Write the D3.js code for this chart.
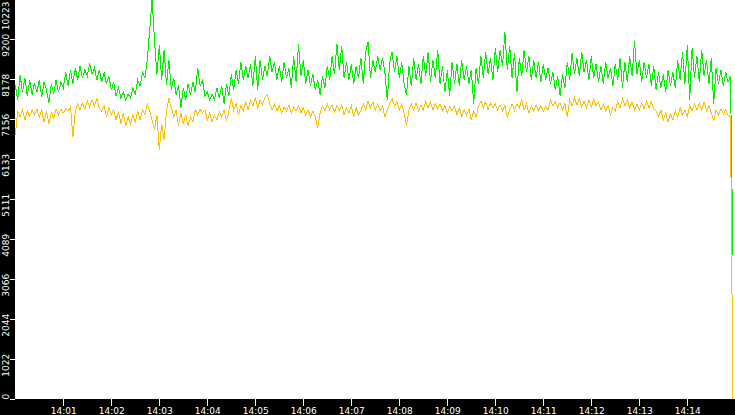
<!DOCTYPE html>
<html>
<head>
<meta charset="utf-8">
<script src="https://cdn.jsdelivr.net/npm/d3@7"></script>
<style>
  html, body { margin: 0; padding: 0; background: #000; overflow: hidden; }
  svg { display: block; }
  text { font-family: "DejaVu Sans", sans-serif; font-size: 9px; fill: #fff; }
</style>
</head>
<body>
<div id="chart"></div>
<script>
// samples are 3 s apart, starting at 14:00:00
const startTime = '14:00:00';
const stepSeconds = 3;

const xTickLabels = ['14:01', '14:02', '14:03', '14:04', '14:05', '14:06', '14:07',
    '14:08', '14:09', '14:10', '14:11', '14:12', '14:13', '14:14'];
const yTickLabels = ['0', '1022', '2044', '3066', '4089', '5111', '6133', '7156', '8178', '9200', '10223'];

const greenValues = [
    8030, 7650, 8290, 7850, 8210, 7750, 8160, 7780, 8080, 7850,
    8160, 7720, 8110, 7905, 7570, 8060, 7800, 8160, 7850, 8110,
    7960, 8360, 8010, 8420, 8060, 8470, 8160, 8520, 8210, 8420,
    8260, 8590, 8310, 8470, 8160, 8420, 8110, 8360, 8060, 8260,
    7905, 8110, 7750, 7960, 7700, 7850, 7650, 7800, 7700, 7960,
    7780, 8160, 8010, 8360, 8210, 8670, 9440, 10223, 9180, 8290,
    9055, 8160, 8930, 8030, 8670, 7905, 8210, 7780, 8030, 7450,
    7960, 7650, 8060, 7780, 8110, 7850, 8470, 8010, 8160, 7750,
    7850, 7650, 7800, 7650, 7960, 7700, 8010, 7550, 8060, 7750,
    8310, 7905, 8420, 8060, 8620, 8160, 8520, 8210, 8570, 8010,
    8770, 7905, 8670, 8160, 8520, 8260, 8770, 8360, 8620, 8160,
    8520, 8110, 8620, 8210, 8470, 7960, 8770, 8110, 9080, 8260,
    8670, 8060, 8420, 8010, 8310, 7905, 8160, 7780, 8260, 7960,
    8520, 8160, 8770, 8310, 9080, 8420, 9030, 8210, 8620, 8160,
    8570, 8060, 8520, 8210, 8720, 8060, 8880, 9130, 8210, 8670,
    8360, 8770, 8420, 8720, 8360, 7650, 8620, 8880, 8360, 8770,
    8210, 8620, 8060, 7780, 8520, 8010, 8720, 8160, 8570, 8060,
    8770, 8260, 8880, 8110, 8670, 8210, 8930, 8060, 8520, 7850,
    8420, 7750, 8620, 8060, 8570, 8010, 8670, 8160, 8520, 8060,
    8420, 7550, 8470, 8060, 8770, 8210, 8880, 8310, 8720, 8160,
    8980, 8360, 8930, 8520, 9390, 8420, 9030, 8210, 8850, 7850,
    8720, 8260, 8930, 8360, 8770, 8160, 8670, 8210, 8620, 8110,
    8570, 8160, 8470, 8060, 8360, 7905, 8260, 7750, 8310, 7960,
    8620, 8160, 8850, 8310, 8720, 8260, 8880, 8360, 8670, 8160,
    8770, 8210, 8570, 8110, 8520, 8060, 8620, 8210, 8470, 8010,
    8570, 8160, 8720, 7960, 8620, 8110, 8770, 8260, 9160, 8310,
    8670, 8110, 8620, 8210, 8570, 8010, 8520, 7905, 8360, 7960,
    8310, 7850, 8420, 8010, 8360, 7960, 8670, 8160, 8880, 8060,
    9055, 7650, 8980, 8210, 8770, 8110, 8930, 8260, 8670, 8060,
    8720, 7550, 8470, 8060, 8420, 8010, 8360, 8110, 8260, 3690
];

const orangeValues = [
    6750, 7370, 7220, 7395, 7140, 7370, 7240, 7395, 7270, 7420,
    7220, 7395, 7090, 7370, 7040, 7320, 7190, 7420, 7270, 7420,
    7320, 7420, 7370, 7470, 6700, 7370, 7550, 7395, 7570, 7420,
    7620, 7470, 7650, 7500, 7680, 7450, 7370, 7500, 7220, 7450,
    7270, 7395, 7140, 7370, 7040, 7320, 6990, 7220, 7040, 7270,
    7090, 7370, 7140, 7395, 7270, 7550, 7370, 7140, 6880, 7270,
    6370, 7040, 6630, 7370, 7700, 7450, 7220, 7395, 6990, 7320,
    7040, 7270, 6990, 7220, 7090, 7395, 7270, 7420, 7320, 7395,
    7140, 7320, 7090, 7270, 7140, 7345, 7220, 7395, 7110, 7370,
    7700, 7395, 7550, 7270, 7500, 7370, 7600, 7395, 7650, 7500,
    7700, 7450, 7650, 7520, 7720, 7780, 7550, 7395, 7550, 7370,
    7500, 7320, 7470, 7370, 7520, 7320, 7470, 7370, 7500, 7320,
    7450, 7270, 7395, 7220, 7370, 7220, 6930, 7320, 7500, 7370,
    7550, 7395, 7520, 7345, 7500, 7370, 7520, 7270, 7450, 7320,
    7500, 7220, 7450, 7270, 7395, 7550, 7395, 7620, 7450, 7600,
    7395, 7550, 7370, 7500, 7220, 7395, 7550, 7680, 7500, 7620,
    7395, 7550, 7320, 7010, 7395, 7550, 7395, 7570, 7370, 7520,
    7395, 7620, 7450, 7600, 7395, 7550, 7420, 7550, 7370, 7500,
    7320, 7470, 7370, 7500, 7270, 7450, 7220, 7395, 7270, 7420,
    7140, 7370, 7220, 7500, 7620, 7450, 7600, 7395, 7570, 7450,
    7550, 7395, 7520, 7380, 7500, 7220, 7395, 7550, 7380, 7550,
    7450, 7650, 7395, 7550, 7320, 7500, 7370, 7520, 7380, 7500,
    7370, 7470, 7395, 7650, 7500, 7600, 7450, 7570, 7395, 7550,
    7220, 7650, 7500, 7700, 7520, 7680, 7470, 7620, 7450, 7650,
    7470, 7680, 7500, 7600, 7395, 7550, 7370, 7500, 7270, 7450,
    7370, 7600, 7450, 7680, 7500, 7650, 7450, 7600, 7395, 7550,
    7395, 7570, 7420, 7620, 7450, 7600, 7420, 7370, 7220, 7395,
    7140, 7320, 7090, 7295, 7140, 7370, 7220, 7450, 7270, 7395,
    7220, 7500, 7370, 7550, 7395, 7570, 7395, 7600, 7370, 7500,
    7320, 7110, 7395, 7270, 7420, 7295, 7395, 7270, 7220, 0
];

const width = 735;
const height = 415;
const margin = { top: 0, right: 0, bottom: 16, left: 15 };

const parseTime = d3.timeParse('%H:%M:%S');
const parseTick = d3.timeParse('%H:%M');
const t0 = parseTime(startTime);
const times = greenValues.map((v, i) => d3.timeSecond.offset(t0, i * stepSeconds));

const svg = d3.select('#chart')
    .append('svg')
    .attr('width', width)
    .attr('height', height);

// black frame, white plot area
svg.append('rect')
    .attr('width', width)
    .attr('height', height)
    .attr('fill', '#000');

svg.append('rect')
    .attr('x', margin.left)
    .attr('y', margin.top)
    .attr('width', width - margin.left - margin.right)
    .attr('height', height - margin.bottom - margin.top)
    .attr('fill', '#fff');

const xScale = d3.scaleTime()
    .domain([t0, d3.timeMinute.offset(t0, 15)])
    .range([15.3, 735.3]);

const yScale = d3.scaleLinear()
    .domain([0, +yTickLabels[yTickLabels.length - 1]])
    .range([399.3, -0.7]);

// Y axis
const yAxis = svg.append('g')
    .attr('transform', `translate(${margin.left},0)`)
    .call(d3.axisLeft(yScale)
        .tickValues(yTickLabels.map(Number))
        .tickFormat((d, i) => yTickLabels[i])
        .tickSize(5)
        .tickSizeOuter(0));

yAxis.select('.domain').remove();
yAxis.selectAll('line')
    .attr('stroke', '#fff')
    .attr('shape-rendering', 'crispEdges');
// rotated labels end a little above their tick, but never above the top edge
yAxis.selectAll('.tick text')
    .attr('x', null)
    .attr('dy', null)
    .attr('fill', '#fff')
    .attr('text-anchor', 'end')
    .attr('transform', d => {
        const shift = Math.max(-6, -yScale(d) + 1);
        return `translate(-6,${shift}) rotate(-90)`;
    });

// X axis
const xAxis = svg.append('g')
    .attr('transform', `translate(0,${height - margin.bottom})`)
    .call(d3.axisBottom(xScale)
        .tickValues(xTickLabels.map(s => parseTick(s)))
        .tickFormat((d, i) => xTickLabels[i])
        .tickSize(7)
        .tickSizeOuter(0));

xAxis.select('.domain').remove();
xAxis.selectAll('line')
    .attr('stroke', '#fff')
    .attr('shape-rendering', 'crispEdges');
xAxis.selectAll('text')
    .attr('y', 15)
    .attr('dy', null)
    .attr('fill', '#fff');

// lines
const plot = svg.append('g');

const line = d3.line()
    .x((d, i) => xScale(times[i]))
    .y(d => yScale(d));

plot.append('path')
    .datum(greenValues)
    .attr('fill', 'none')
    .attr('stroke', '#00f000')
    .attr('stroke-width', 1)
    .attr('shape-rendering', 'crispEdges')
    .attr('d', line);

plot.append('path')
    .datum(orangeValues)
    .attr('fill', 'none')
    .attr('stroke', '#ffc000')
    .attr('stroke-width', 1)
    .attr('shape-rendering', 'crispEdges')
    .attr('d', line);
</script>
</body>
</html>
